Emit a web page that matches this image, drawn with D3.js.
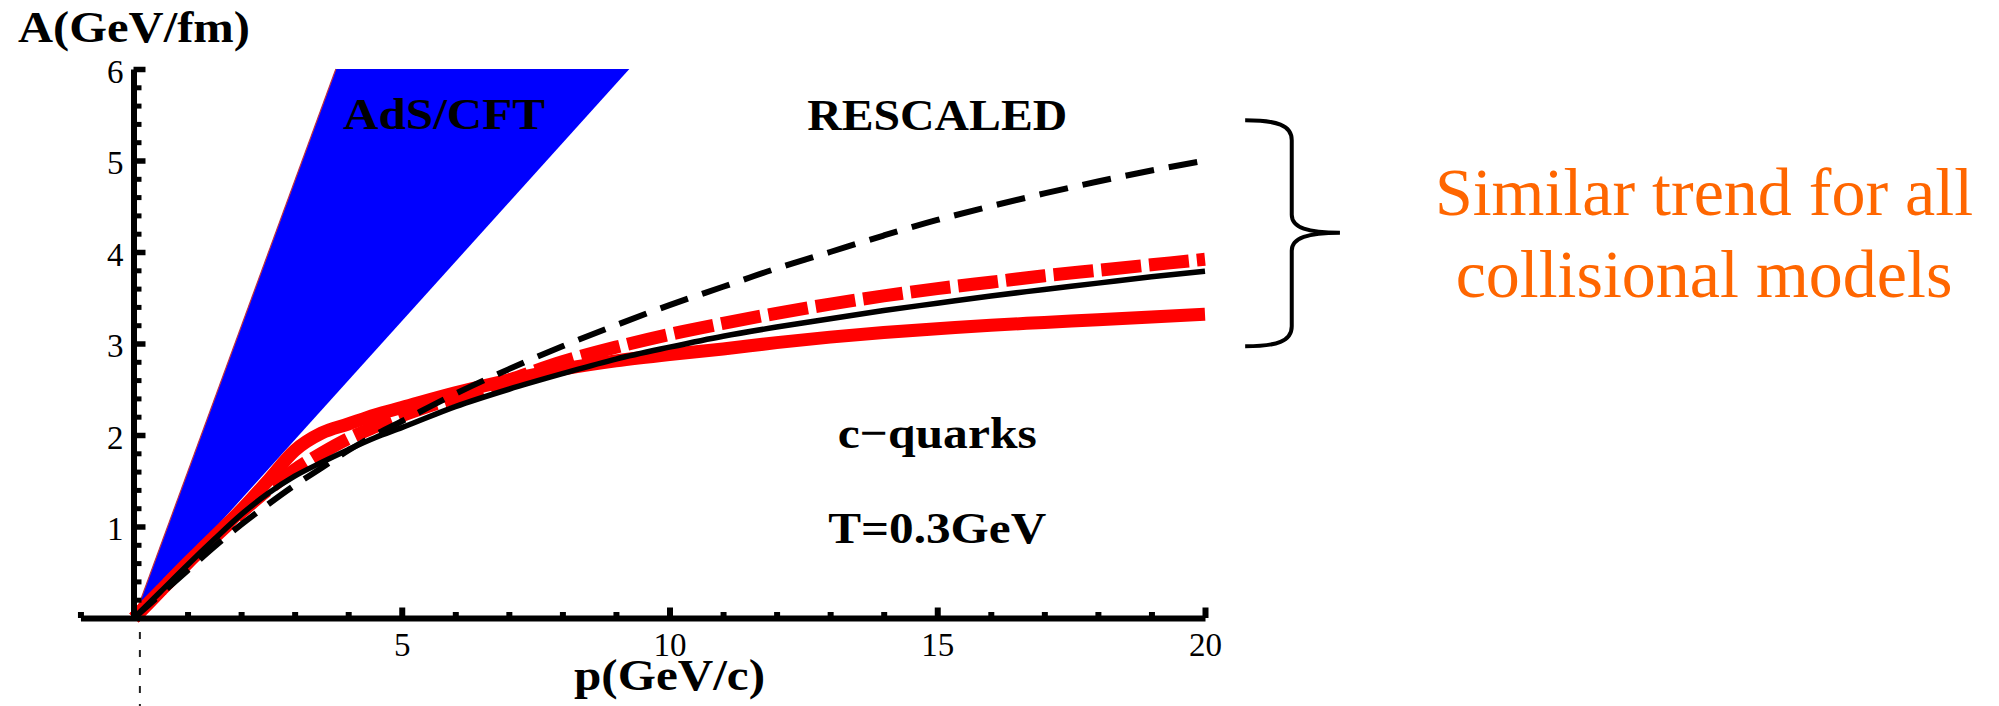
<!DOCTYPE html>
<html>
<head>
<meta charset="utf-8">
<script src="https://cdn.jsdelivr.net/npm/d3@7"></script>
<style>
  html, body { margin: 0; padding: 0; background: #fff; }
  svg { display: block; }
</style>
</head>
<body>
<svg id="chart" width="1999" height="706"></svg>
<script>
// ---------------- DATA ----------------
const pValues = [0, 0.5, 1, 1.5, 2, 2.5, 3, 3.5, 4, 4.5, 5, 6, 7, 8, 9, 10, 11, 12, 13, 14, 15, 16, 17, 18, 19, 20];
const redSolid    = [0, 0.30, 0.60, 0.89, 1.18, 1.50, 1.83, 2.02, 2.12, 2.22, 2.30, 2.46, 2.60, 2.72, 2.81, 2.88, 2.94, 3.01, 3.07, 3.12, 3.16, 3.20, 3.23, 3.26, 3.29, 3.32];
const redDashed   = [0, 0.30, 0.60, 0.88, 1.15, 1.40, 1.62, 1.80, 1.96, 2.09, 2.21, 2.41, 2.60, 2.80, 2.96, 3.10, 3.22, 3.33, 3.43, 3.52, 3.60, 3.67, 3.74, 3.80, 3.86, 3.92];
const blackSolid  = [0, 0.29, 0.58, 0.86, 1.13, 1.36, 1.55, 1.70, 1.84, 1.97, 2.08, 2.31, 2.50, 2.67, 2.83, 2.96, 3.08, 3.18, 3.27, 3.36, 3.44, 3.52, 3.59, 3.66, 3.73, 3.79];
const blackDashed = [0, 0.26, 0.52, 0.78, 1.02, 1.24, 1.45, 1.64, 1.83, 2.00, 2.15, 2.45, 2.72, 2.97, 3.20, 3.42, 3.62, 3.82, 4.00, 4.18, 4.35, 4.50, 4.64, 4.77, 4.89, 5.00];

// AdS/CFT band corners (p, A)
const adsBand = [[0, 0], [3.77, 6], [9.25, 6]];

const xMajorTicks = [5, 10, 15, 20];
const xMinorTicks = [-1, 0, 1, 2, 3, 4, 6, 7, 8, 9, 11, 12, 13, 14, 16, 17, 18, 19];
const yMajorTicks = [1, 2, 3, 4, 5, 6];
const yMinorTicks = [0.2, 0.4, 0.6, 0.8, 1.2, 1.4, 1.6, 1.8, 2.2, 2.4, 2.6, 2.8, 3.2, 3.4, 3.6, 3.8, 4.2, 4.4, 4.6, 4.8, 5.2, 5.4, 5.6, 5.8];

const yAxisTitle = "A(GeV/fm)";
const xAxisTitle = "p(GeV/c)";
const noteLines = ["Similar trend for all", "collisional models"];

// ---------------- SCALES ----------------
const svg = d3.select("#chart");
svg.append("rect").attr("width", 1999).attr("height", 706).attr("fill", "#fff");

const x = d3.scaleLinear().domain([-1, 20]).range([80.45, 1205]);
const y = d3.scaleLinear().domain([0, 6]).range([618, 69]);

const serif = "'Liberation Serif', 'Times New Roman', serif";

// ---------------- AdS/CFT band ----------------
svg.append("path")
  .attr("d", "M" + adsBand.map(d => x(d[0]) + "," + y(d[1])).join("L") + "Z")
  .attr("fill", "#0000ff");
svg.append("line")
  .attr("x1", x(adsBand[0][0])).attr("y1", y(adsBand[0][1]))
  .attr("x2", x(adsBand[1][0])).attr("y2", y(adsBand[1][1]))
  .attr("stroke", "#c03040").attr("stroke-width", 1.2);

// ---------------- curves ----------------
const line = d3.line().x(d => x(d[0])).y(d => y(d[1])).curve(d3.curveMonotoneX);
const series = [
  { v: redSolid,    color: "#ff0000", w: 13,  dash: null },
  { v: redDashed,   color: "#ff0000", w: 13,  dash: "40,8" },
  { v: blackSolid,  color: "#000000", w: 5.5, dash: null },
  { v: blackDashed, color: "#000000", w: 6,   dash: "29,15" }
];
series.forEach(s => {
  svg.append("path")
    .datum(pValues.map((p, i) => [p, s.v[i]]))
    .attr("d", line)
    .attr("fill", "none")
    .attr("stroke", s.color)
    .attr("stroke-width", s.w)
    .attr("stroke-dasharray", s.dash);
});

// ---------------- axes ----------------
function styleAxis(g, tickW) {
  g.select(".domain").attr("stroke", "#000").attr("stroke-width", 6);
  g.selectAll(".tick line").attr("stroke", "#000").attr("stroke-width", tickW);
  g.selectAll(".tick text").attr("fill", "#000").attr("font-family", serif).attr("font-size", 33);
}

// x axis
const gxMinor = svg.append("g").attr("transform", `translate(0,${y(0)})`)
  .call(d3.axisBottom(x).tickValues(xMinorTicks).tickSize(-6).tickSizeOuter(0).tickFormat(""));
styleAxis(gxMinor, 6);
const gxMajor = svg.append("g").attr("transform", `translate(0,${y(0)})`)
  .call(d3.axisBottom(x).tickValues(xMajorTicks).tickSize(-10.5).tickSizeOuter(0).tickPadding(15).tickFormat(d3.format("d")));
styleAxis(gxMajor, 6);
gxMajor.select(".domain").remove();

// y axis
const gyMinor = svg.append("g").attr("transform", `translate(${x(0) - 0.5},0)`)
  .call(d3.axisLeft(y).tickValues(yMinorTicks).tickSize(-8).tickSizeOuter(0).tickFormat(""));
styleAxis(gyMinor, 5);
const gyMajor = svg.append("g").attr("transform", `translate(${x(0) - 0.5},0)`)
  .call(d3.axisLeft(y).tickValues(yMajorTicks).tickSize(-12).tickSizeOuter(0).tickPadding(10).tickFormat(d3.format("d")));
styleAxis(gyMajor, 5.5);
gyMajor.select(".domain").remove();
gyMajor.selectAll(".tick text").attr("dy", "0.4em");

// dashed marker below origin
svg.append("line")
  .attr("x1", x(0.11)).attr("x2", x(0.11))
  .attr("y1", 632).attr("y2", 706)
  .attr("stroke", "#222").attr("stroke-width", 2).attr("stroke-dasharray", "7,11");

// ---------------- text labels ----------------
function boldText(txt, px, py, anchor, len) {
  svg.append("text")
    .attr("x", px).attr("y", py)
    .attr("text-anchor", anchor)
    .attr("font-family", serif).attr("font-weight", "bold").attr("font-size", 45)
    .attr("textLength", len).attr("lengthAdjust", "spacingAndGlyphs")
    .attr("fill", "#000")
    .text(txt);
}
boldText(yAxisTitle, 18, 42, "start", 232);
boldText(xAxisTitle, x(10), 690, "middle", 191);
boldText("AdS/CFT", x(5.79), y(5.34), "middle", 202);
boldText("RESCALED", x(15), y(5.33), "middle", 260);
boldText("c\u2212quarks", x(15), y(1.86), "middle", 199);
boldText("T=0.3GeV", x(15), y(0.82), "middle", 218);

// ---------------- brace annotation ----------------
const bTop = y(5.44), bBot = y(2.97), bMid = y(4.21);
const bTip = x(20.75), bV = x(21.62), bPt = x(22.52);
const bracePath = [
  `M${bTip},${bTop}`,
  `C${bTip + 32},${bTop} ${bV},${bTop + 5} ${bV},${bTop + 20}`,
  `L${bV},${bMid - 18}`,
  `C${bV},${bMid - 5} ${bV + 16},${bMid} ${bPt},${bMid}`,
  `C${bV + 16},${bMid} ${bV},${bMid + 5} ${bV},${bMid + 18}`,
  `L${bV},${bBot - 20}`,
  `C${bV},${bBot - 5} ${bTip + 32},${bBot} ${bTip},${bBot}`
].join(" ");
svg.append("path").attr("d", bracePath)
  .attr("fill", "none").attr("stroke", "#000").attr("stroke-width", 4);

svg.selectAll("text.note").data(noteLines).enter().append("text")
  .attr("class", "note")
  .attr("x", 1704)
  .attr("y", (d, i) => 215 + i * 82)
  .attr("text-anchor", "middle")
  .attr("font-family", serif).attr("font-size", 68)
  .attr("fill", "#ff6600")
  .text(d => d);
</script>
</body>
</html>
